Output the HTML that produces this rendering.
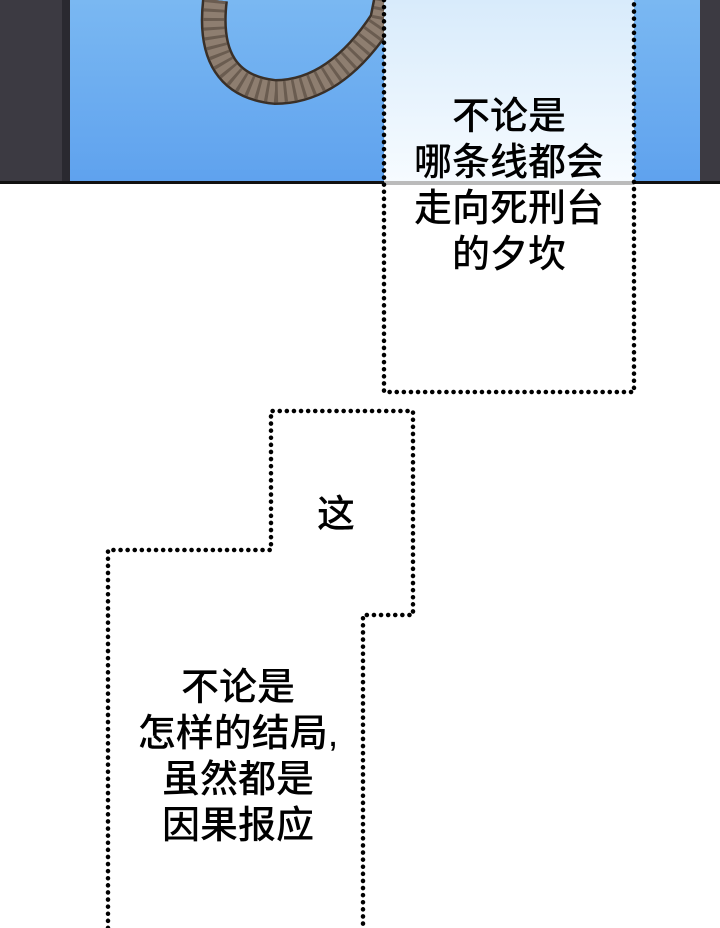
<!DOCTYPE html>
<html><head><meta charset="utf-8"><style>
body{margin:0;width:720px;height:928px;overflow:hidden;background:#fff;position:relative;font-family:"Liberation Sans","Noto Sans CJK SC",sans-serif}
.t{position:absolute;font-size:38px;line-height:46px;text-align:center;color:#000;font-weight:500}
</style></head><body>
<svg width="720" height="928" style="position:absolute;left:0;top:0">
<defs><linearGradient id="g" x1="0" y1="0" x2="0" y2="1"><stop offset="0" stop-color="#7ab8f2"/><stop offset="1" stop-color="#5fa2ee"/></linearGradient>
<linearGradient id="w" x1="0" y1="0" x2="0" y2="1"><stop offset="0" stop-color="#d8ebfb"/><stop offset="1" stop-color="#f6fbff"/></linearGradient></defs>
<rect x="0" y="0" width="720" height="184" fill="#3c3a42"/>
<rect x="62" y="0" width="8" height="184" fill="#2a2930"/>
<rect x="70" y="0" width="630" height="181" fill="url(#g)"/>
<rect x="0" y="181" width="720" height="3" fill="#111"/>
<path d="M215 0 Q205 85 275 92 Q335 92 382 20 L386 0" fill="none" stroke="#3a3028" stroke-width="26"/>
<path d="M215 0 Q205 85 275 92 Q335 92 382 20 L386 0" fill="none" stroke="#8e7e70" stroke-width="21"/>
<path d="M215 0 Q205 85 275 92 Q335 92 382 20 L386 0" fill="none" stroke="#6a5c50" stroke-width="21" stroke-dasharray="3 6"/>
<rect x="384" y="0" width="250" height="181" fill="url(#w)"/>
<rect x="384" y="181" width="250" height="4" fill="#bbb"/>
<g fill="none" stroke="#000" stroke-width="4.5" stroke-dasharray="0.1 7" stroke-linecap="round">
<path d="M384 0 V392 H634 V0"/>
<path d="M108 928 V550 H271 V411 H413 V615 H363 V928"/>
</g>
</svg>
<div class="t" style="left:384px;width:250px;top:94px">不论是<br>哪条线都会<br>走向死刑台<br>的夕坎</div>
<div class="t" style="left:271px;width:130px;top:492px">这</div>
<div class="t" style="left:108px;width:260px;top:665px">不论是<br>怎样的结局,<br>虽然都是<br>因果报应</div>
</body></html>
